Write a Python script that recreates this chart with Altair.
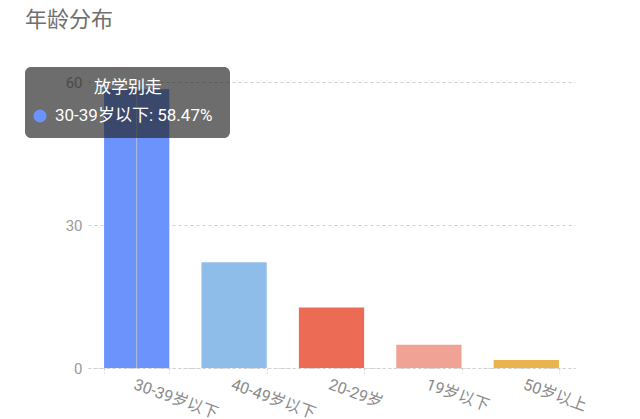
import altair as alt
import pandas as pd

categories = ["30-39岁以下", "40-49岁以下", "20-29岁", "19岁以下", "50岁以上"]
values = [58.47, 22.2, 12.7, 4.9, 1.7]
colors = ["#6b93fb", "#8fbde9", "#ec6b55", "#f0a295", "#e9b44d"]
y_ticks = [0, 30, 60]
series_name = "放学别走"
title_text = "年龄分布"

FONT = "Roboto, Noto Sans CJK SC, sans-serif"

df = pd.DataFrame({"cat": categories, "val": values})
tip = pd.DataFrame({
    "name": [series_name],
    "line": [f"{categories[0]}: {values[0]:.2f}%"],
    "cat": [categories[0]],
})

x_enc = alt.X("cat:N", sort=categories, scale=alt.Scale(paddingInner=0.33, paddingOuter=0.165),
              axis=alt.Axis(title=None, labelAngle=20, labelAlign="left", labelBaseline="top",
                            labelFontSize=16, labelColor="#8a8a8a", labelFont=FONT,
                            labelPadding=3, tickBand="extent", tickSize=5, tickColor="#d0d0d0",
                            tickDash=[2, 2], domainColor="#d0d0d0", domainDash=[2, 3],
                            grid=False, zindex=0))
y_enc = alt.Y("val:Q", scale=alt.Scale(domain=[0, 60]),
              axis=alt.Axis(title=None, values=y_ticks, labelFontSize=15, labelColor="#9a9a9a",
                            labelFont=FONT, labelPadding=6, ticks=False, domain=False,
                            gridColor="#cfcfcf", gridDash=[3, 3], zindex=0))

bars = alt.Chart(df).mark_bar().encode(
    x=x_enc,
    y=y_enc,
    color=alt.Color("cat:N", sort=categories, scale=alt.Scale(domain=categories, range=colors), legend=None),
)

pointer = alt.Chart(tip).mark_rule(color="#c8c8c8", strokeWidth=1, opacity=0.8).encode(
    x=alt.X("cat:N", sort=categories),
    y=alt.value(0),
    y2=alt.value(286),
)

box = alt.Chart(tip).mark_rect(fill="#222222", opacity=0.66, cornerRadius=6).encode(
    x=alt.value(-63), x2=alt.value(142), y=alt.value(-15), y2=alt.value(56)
)
tip_title = alt.Chart(tip).mark_text(color="white", fontSize=17, font=FONT, align="center",
                                     baseline="middle").encode(
    text="name:N", x=alt.value(40), y=alt.value(6)
)
dot = alt.Chart(tip).mark_point(filled=True, shape="circle", size=170, opacity=1,
                                color=colors[0]).encode(
    x=alt.value(-48), y=alt.value(34)
)
tip_line = alt.Chart(tip).mark_text(color="white", fontSize=17, font=FONT, align="left",
                                    baseline="middle").encode(
    text="line:N", x=alt.value(-33), y=alt.value(34)
)

chart = alt.layer(bars, pointer, box, tip_title, dot, tip_line).properties(
    width=487,
    height=286,
    autosize=alt.AutoSizeParams(type="none"),
    padding={"left": 80, "top": 74, "right": 50, "bottom": 50},
    title=alt.TitleParams(title_text, anchor="start", frame="group", dx=-63, offset=35,
                          fontSize=22, fontWeight="normal", color="#6f6f6f", font=FONT),
).configure(background="white").configure_view(strokeWidth=0)

chart.save("out.html", embed_options={"renderer": "svg", "actions": False})
